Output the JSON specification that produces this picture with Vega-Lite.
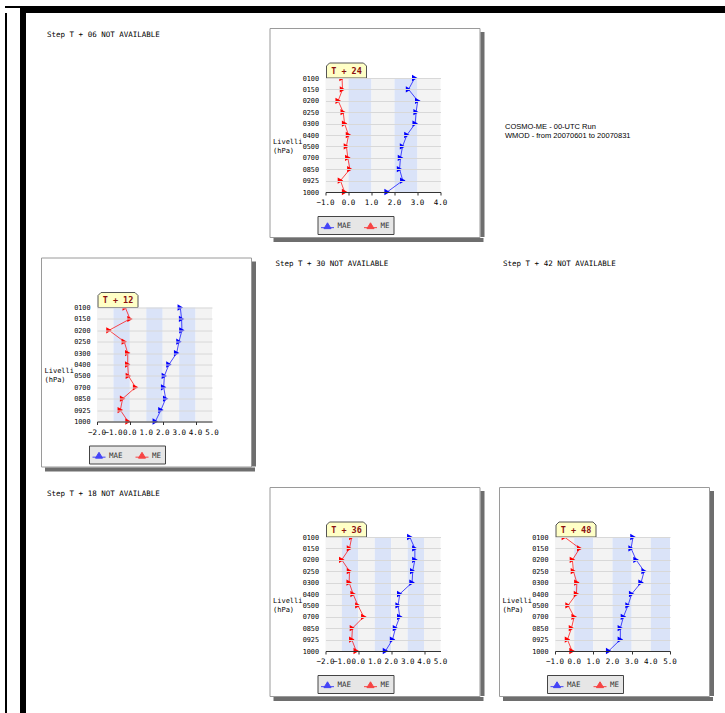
{
  "$schema": "https://vega.github.io/schema/vega-lite/v6.json",
  "padding": {"left": 5, "top": 6, "right": 0, "bottom": 0},
  "background": "white",
  "config": {"view": {"stroke": null}, "font": "DejaVu Sans Mono"},
  "datasets": {
    "profiles": [
      {"step": "T + 24", "level": "0100", "series": "MAE", "value": 2.88},
      {"step": "T + 24", "level": "0150", "series": "MAE", "value": 2.61},
      {"step": "T + 24", "level": "0200", "series": "MAE", "value": 3.01},
      {"step": "T + 24", "level": "0250", "series": "MAE", "value": 2.94},
      {"step": "T + 24", "level": "0300", "series": "MAE", "value": 2.90},
      {"step": "T + 24", "level": "0400", "series": "MAE", "value": 2.54},
      {"step": "T + 24", "level": "0500", "series": "MAE", "value": 2.35},
      {"step": "T + 24", "level": "0700", "series": "MAE", "value": 2.26},
      {"step": "T + 24", "level": "0850", "series": "MAE", "value": 2.22},
      {"step": "T + 24", "level": "0925", "series": "MAE", "value": 2.36},
      {"step": "T + 24", "level": "1000", "series": "MAE", "value": 1.68},
      {"step": "T + 24", "level": "0100", "series": "ME", "value": -0.28},
      {"step": "T + 24", "level": "0150", "series": "ME", "value": -0.26},
      {"step": "T + 24", "level": "0200", "series": "ME", "value": -0.45},
      {"step": "T + 24", "level": "0250", "series": "ME", "value": -0.23},
      {"step": "T + 24", "level": "0300", "series": "ME", "value": -0.17},
      {"step": "T + 24", "level": "0400", "series": "ME", "value": 0.00},
      {"step": "T + 24", "level": "0500", "series": "ME", "value": -0.09},
      {"step": "T + 24", "level": "0700", "series": "ME", "value": -0.03},
      {"step": "T + 24", "level": "0850", "series": "ME", "value": 0.06},
      {"step": "T + 24", "level": "0925", "series": "ME", "value": -0.35},
      {"step": "T + 24", "level": "1000", "series": "ME", "value": -0.17},
      {"step": "T + 12", "level": "0100", "series": "MAE", "value": 3.07},
      {"step": "T + 12", "level": "0150", "series": "MAE", "value": 3.15},
      {"step": "T + 12", "level": "0200", "series": "MAE", "value": 3.17},
      {"step": "T + 12", "level": "0250", "series": "MAE", "value": 2.99},
      {"step": "T + 12", "level": "0300", "series": "MAE", "value": 2.85},
      {"step": "T + 12", "level": "0400", "series": "MAE", "value": 2.38},
      {"step": "T + 12", "level": "0500", "series": "MAE", "value": 2.10},
      {"step": "T + 12", "level": "0700", "series": "MAE", "value": 2.06},
      {"step": "T + 12", "level": "0850", "series": "MAE", "value": 2.18},
      {"step": "T + 12", "level": "0925", "series": "MAE", "value": 1.89},
      {"step": "T + 12", "level": "1000", "series": "MAE", "value": 1.55},
      {"step": "T + 12", "level": "0100", "series": "ME", "value": -0.28},
      {"step": "T + 12", "level": "0150", "series": "ME", "value": 0.01},
      {"step": "T + 12", "level": "0200", "series": "ME", "value": -1.27},
      {"step": "T + 12", "level": "0250", "series": "ME", "value": -0.34},
      {"step": "T + 12", "level": "0300", "series": "ME", "value": -0.13},
      {"step": "T + 12", "level": "0400", "series": "ME", "value": -0.13},
      {"step": "T + 12", "level": "0500", "series": "ME", "value": -0.09},
      {"step": "T + 12", "level": "0700", "series": "ME", "value": 0.35},
      {"step": "T + 12", "level": "0850", "series": "ME", "value": -0.44},
      {"step": "T + 12", "level": "0925", "series": "ME", "value": -0.58},
      {"step": "T + 12", "level": "1000", "series": "ME", "value": -0.11},
      {"step": "T + 36", "level": "0100", "series": "MAE", "value": 3.13},
      {"step": "T + 36", "level": "0150", "series": "MAE", "value": 3.44},
      {"step": "T + 36", "level": "0200", "series": "MAE", "value": 3.44},
      {"step": "T + 36", "level": "0250", "series": "MAE", "value": 3.31},
      {"step": "T + 36", "level": "0300", "series": "MAE", "value": 3.27},
      {"step": "T + 36", "level": "0400", "series": "MAE", "value": 2.52},
      {"step": "T + 36", "level": "0500", "series": "MAE", "value": 2.42},
      {"step": "T + 36", "level": "0700", "series": "MAE", "value": 2.52},
      {"step": "T + 36", "level": "0850", "series": "MAE", "value": 2.26},
      {"step": "T + 36", "level": "0925", "series": "MAE", "value": 2.08},
      {"step": "T + 36", "level": "1000", "series": "MAE", "value": 1.65},
      {"step": "T + 36", "level": "0100", "series": "ME", "value": -0.40},
      {"step": "T + 36", "level": "0150", "series": "ME", "value": -0.54},
      {"step": "T + 36", "level": "0200", "series": "ME", "value": -1.01},
      {"step": "T + 36", "level": "0250", "series": "ME", "value": -0.54},
      {"step": "T + 36", "level": "0300", "series": "ME", "value": -0.56},
      {"step": "T + 36", "level": "0400", "series": "ME", "value": -0.32},
      {"step": "T + 36", "level": "0500", "series": "ME", "value": -0.03},
      {"step": "T + 36", "level": "0700", "series": "ME", "value": 0.33},
      {"step": "T + 36", "level": "0850", "series": "ME", "value": -0.36},
      {"step": "T + 36", "level": "0925", "series": "ME", "value": -0.40},
      {"step": "T + 36", "level": "1000", "series": "ME", "value": -0.13},
      {"step": "T + 48", "level": "0100", "series": "MAE", "value": 3.07},
      {"step": "T + 48", "level": "0150", "series": "MAE", "value": 2.97},
      {"step": "T + 48", "level": "0200", "series": "MAE", "value": 3.23},
      {"step": "T + 48", "level": "0250", "series": "MAE", "value": 3.65},
      {"step": "T + 48", "level": "0300", "series": "MAE", "value": 3.49},
      {"step": "T + 48", "level": "0400", "series": "MAE", "value": 3.00},
      {"step": "T + 48", "level": "0500", "series": "MAE", "value": 2.81},
      {"step": "T + 48", "level": "0700", "series": "MAE", "value": 2.57},
      {"step": "T + 48", "level": "0850", "series": "MAE", "value": 2.41},
      {"step": "T + 48", "level": "0925", "series": "MAE", "value": 2.41},
      {"step": "T + 48", "level": "1000", "series": "MAE", "value": 1.80},
      {"step": "T + 48", "level": "0100", "series": "ME", "value": -0.51},
      {"step": "T + 48", "level": "0150", "series": "ME", "value": 0.29},
      {"step": "T + 48", "level": "0200", "series": "ME", "value": -0.09},
      {"step": "T + 48", "level": "0250", "series": "ME", "value": -0.04},
      {"step": "T + 48", "level": "0300", "series": "ME", "value": 0.14},
      {"step": "T + 48", "level": "0400", "series": "ME", "value": 0.12},
      {"step": "T + 48", "level": "0500", "series": "ME", "value": -0.32},
      {"step": "T + 48", "level": "0700", "series": "ME", "value": 0.00},
      {"step": "T + 48", "level": "0850", "series": "ME", "value": -0.14},
      {"step": "T + 48", "level": "0925", "series": "ME", "value": -0.35},
      {"step": "T + 48", "level": "1000", "series": "ME", "value": -0.11}
    ],
    "bands": [
      {"step": "T + 24", "lo": -1, "hi": 0, "kind": "a"},
      {"step": "T + 24", "lo": 0, "hi": 1, "kind": "b"},
      {"step": "T + 24", "lo": 1, "hi": 2, "kind": "a"},
      {"step": "T + 24", "lo": 2, "hi": 3, "kind": "b"},
      {"step": "T + 24", "lo": 3, "hi": 4, "kind": "a"},
      {"step": "T + 12", "lo": -2, "hi": -1, "kind": "a"},
      {"step": "T + 12", "lo": -1, "hi": 0, "kind": "b"},
      {"step": "T + 12", "lo": 0, "hi": 1, "kind": "a"},
      {"step": "T + 12", "lo": 1, "hi": 2, "kind": "b"},
      {"step": "T + 12", "lo": 2, "hi": 3, "kind": "a"},
      {"step": "T + 12", "lo": 3, "hi": 4, "kind": "b"},
      {"step": "T + 12", "lo": 4, "hi": 5, "kind": "a"},
      {"step": "T + 36", "lo": -2, "hi": -1, "kind": "a"},
      {"step": "T + 36", "lo": -1, "hi": 0, "kind": "b"},
      {"step": "T + 36", "lo": 0, "hi": 1, "kind": "a"},
      {"step": "T + 36", "lo": 1, "hi": 2, "kind": "b"},
      {"step": "T + 36", "lo": 2, "hi": 3, "kind": "a"},
      {"step": "T + 36", "lo": 3, "hi": 4, "kind": "b"},
      {"step": "T + 36", "lo": 4, "hi": 5, "kind": "a"},
      {"step": "T + 48", "lo": -1, "hi": 0, "kind": "a"},
      {"step": "T + 48", "lo": 0, "hi": 1, "kind": "b"},
      {"step": "T + 48", "lo": 1, "hi": 2, "kind": "a"},
      {"step": "T + 48", "lo": 2, "hi": 3, "kind": "b"},
      {"step": "T + 48", "lo": 3, "hi": 4, "kind": "a"},
      {"step": "T + 48", "lo": 4, "hi": 5, "kind": "b"}
    ],
    "xticks": [
      {"step": "T + 24", "tick": -1}, {"step": "T + 24", "tick": 0}, {"step": "T + 24", "tick": 1},
      {"step": "T + 24", "tick": 2}, {"step": "T + 24", "tick": 3}, {"step": "T + 24", "tick": 4},
      {"step": "T + 12", "tick": -2}, {"step": "T + 12", "tick": -1}, {"step": "T + 12", "tick": 0}, {"step": "T + 12", "tick": 1},
      {"step": "T + 12", "tick": 2}, {"step": "T + 12", "tick": 3}, {"step": "T + 12", "tick": 4}, {"step": "T + 12", "tick": 5},
      {"step": "T + 36", "tick": -2}, {"step": "T + 36", "tick": -1}, {"step": "T + 36", "tick": 0}, {"step": "T + 36", "tick": 1},
      {"step": "T + 36", "tick": 2}, {"step": "T + 36", "tick": 3}, {"step": "T + 36", "tick": 4}, {"step": "T + 36", "tick": 5},
      {"step": "T + 48", "tick": -1}, {"step": "T + 48", "tick": 0}, {"step": "T + 48", "tick": 1}, {"step": "T + 48", "tick": 2},
      {"step": "T + 48", "tick": 3}, {"step": "T + 48", "tick": 4}, {"step": "T + 48", "tick": 5}
    ]
  },
  "spacing": 0,
  "vconcat": [
    {
      "spacing": 0,
      "hconcat": [
        {"width": 15, "height": 2, "data": {"values": []}, "mark": "point", "view": {"fill": "#000000", "stroke": null}},
        {"width": 705, "height": 7, "data": {"values": []}, "mark": "point", "view": {"fill": "#000000", "stroke": null}}
      ]
    },
    {
      "spacing": 13,
      "hconcat": [
        {"width": 2, "height": 700, "data": {"values": []}, "mark": "point", "view": {"fill": "#000000", "stroke": null}},
        {
          "spacing": 14,
          "hconcat": [
            {"width": 6, "height": 700, "data": {"values": []}, "mark": "point", "view": {"fill": "#000000", "stroke": null}},
            {
              "spacing": 0,
              "vconcat": [
                {"width": 1, "height": 14, "data": {"values": []}, "mark": "point"},
                {
                  "spacing": 14.5,
                  "vconcat": [
                    {
                      "spacing": 13.5,
                      "resolve": {"scale": {"color": "independent"}, "legend": {"color": "independent"}},
                      "hconcat": [
                        {"width": 214, "height": 213, "data": {"values": []}, "mark": "text",
                         "title": {"text": "Step T + 06 NOT AVAILABLE", "anchor": "start", "frame": "group", "offset": -10, "dx": 6, "baseline": "top", "font": "DejaVu Sans Mono", "fontSize": 7.5, "fontWeight": "normal", "color": "#000000"}},
                        {
                          "spacing": 0,
                          "resolve": {"scale": {"color": "independent"}, "legend": {"color": "independent"}},
                          "vconcat": [
                            {
                              "spacing": 0,
                              "resolve": {"scale": {"color": "independent"}, "legend": {"color": "independent"}},
                              "hconcat": [
                                {
                                  "width": 210, "height": 209,
                                  "view": {"fill": "#ffffff", "stroke": "#9a9a9a"},
                                  "layer": [
                                    {"data": {"name": "bands"}, "transform": [{"filter": "datum.step === 'T + 24'"}],
                                     "mark": {"type": "rect", "strokeWidth": 0},
                                     "encoding": {
                                       "x": {"field": "lo", "type": "quantitative", "scale": {"domain": [-1, 4], "range": [56, 171], "nice": false, "zero": false},
                                             "axis": {"orient": "bottom", "offset": -45, "title": null, "grid": false, "values": [-1, -0.5, 0, 0.5, 1, 1.5, 2, 2.5, 3, 3.5, 4], "labels": false, "domainColor": "#333333", "tickColor": "#333333", "tickSize": 3, "zindex": 1}},
                                       "x2": {"field": "hi"},
                                       "y": {"datum": "0100", "type": "nominal", "scale": {"type": "point", "domain": ["0100","0150","0200","0250","0300","0400","0500","0700","0850","0925","1000"], "range": [50, 164], "padding": 0},
                                             "axis": {"orient": "left", "offset": -56, "title": ["Livelli", "(hPa)"], "titleAngle": 0, "titleAlign": "left", "titleBaseline": "top", "titleX": -53, "titleY": 109, "titleFont": "DejaVu Sans Mono", "titleFontSize": 7, "titleFontWeight": "normal", "titleColor": "#000000", "titleLineHeight": 9, "grid": true, "gridColor": "#d8d8d8", "domain": false, "ticks": false, "labelPadding": 7, "labelFont": "DejaVu Sans Mono", "labelFontSize": 6.8, "labelColor": "#000000", "zindex": 1}},
                                       "y2": {"datum": "1000"},
                                       "fill": {"condition": {"test": "datum.kind === 'b'", "value": "#dae3f8"}, "value": "#f3f3f3"}
                                     }},
                                    {"data": {"name": "profiles"}, "transform": [{"filter": "datum.step === 'T + 24'"}],
                                     "mark": {"type": "line", "strokeWidth": 1, "opacity": 0.7},
                                     "encoding": {
                                       "x": {"field": "value", "type": "quantitative"},
                                       "y": {"field": "level", "type": "nominal"},
                                       "order": {"field": "level", "type": "ordinal"},
                                       "color": {"field": "series", "type": "nominal", "scale": {"domain": ["MAE", "ME"], "range": ["#0000ff", "#ff0000"]},
                                                 "legend": {"orient": "none", "legendX": 48, "legendY": 188, "direction": "horizontal", "title": null, "fillColor": "#e6e6e6", "strokeColor": "#444444", "padding": 3, "columnPadding": 10, "symbolType": "M-1,0.2H1M-0.55,0.35L0,-0.55L0.55,0.35Z", "symbolSize": 169, "symbolStrokeWidth": 1, "labelFont": "DejaVu Sans Mono", "labelFontSize": 7.5, "labelColor": "#333333", "labelOffset": 3}}
                                     }},
                                    {"data": {"name": "profiles"}, "transform": [{"filter": "datum.step === 'T + 24'"}],
                                     "mark": {"type": "point", "shape": "triangle-right", "filled": true, "size": 40, "opacity": 1},
                                     "encoding": {
                                       "x": {"field": "value", "type": "quantitative"},
                                       "y": {"field": "level", "type": "nominal"},
                                       "color": {"field": "series", "type": "nominal"}
                                     }},
                                    {"data": {"name": "xticks"}, "transform": [{"filter": "datum.step === 'T + 24'"}],
                                     "mark": {"type": "text", "baseline": "top", "dy": 7, "align": "center", "font": "DejaVu Sans Mono", "fontSize": 7.5, "color": "#000000"},
                                     "encoding": {"x": {"field": "tick", "type": "quantitative"}, "y": {"datum": "1000"}, "text": {"field": "tick", "type": "quantitative", "format": ".1f"}}},
                                    {"data": {"values": [{"step": "T + 24"}]},
                                     "mark": {"type": "point", "shape": "M0.1,0L0.1,-1.2L0.4,-1.5L3.8,-1.5L4.1,-1.2L4.1,0Z", "size": 400, "filled": true, "fill": "#ffffc6", "stroke": "#555555", "strokeWidth": 1, "opacity": 1},
                                     "encoding": {"x": {"datum": -1}, "y": {"datum": "0100"}}},
                                    {"data": {"values": [{"step": "T + 24"}]},
                                     "mark": {"type": "text", "dx": 21, "dy": -7.5, "align": "center", "baseline": "middle", "font": "DejaVu Sans Mono", "fontSize": 8.5, "fontWeight": "bold", "color": "#8b1010"},
                                     "encoding": {"x": {"datum": -1}, "y": {"datum": "0100"}, "text": {"field": "step"}}}
                                  ]
                                },
                                {
                                  "spacing": 0,
                                  "vconcat": [
                                    {"width": 4, "height": 4, "data": {"values": []}, "mark": "point"},
                                    {"width": 4, "height": 205, "data": {"values": []}, "mark": "point", "view": {"fill": "#6e6e6e", "stroke": null}}
                                  ]
                                }
                              ]
                            },
                            {
                              "spacing": 0,
                              "hconcat": [
                                {"width": 4, "height": 4, "data": {"values": []}, "mark": "point"},
                                {"width": 210, "height": 4, "data": {"values": []}, "mark": "point", "view": {"fill": "#6e6e6e", "stroke": null}}
                              ]
                            }
                          ]
                        },
                        {"width": 214, "height": 213, "data": {"values": []}, "mark": "text",
                         "title": {"text": ["COSMO-ME - 00-UTC Run", "WMOD - from 20070601 to 20070831"], "anchor": "start", "frame": "group", "offset": -111, "dx": 7, "baseline": "top", "lineHeight": 9, "font": "Liberation Sans", "fontSize": 7.5, "fontWeight": "normal", "color": "#000000"}}
                      ]
                    },
                    {
                      "spacing": 13.5,
                      "resolve": {"scale": {"color": "independent"}, "legend": {"color": "independent"}},
                      "hconcat": [
                        {
                          "spacing": 0,
                          "resolve": {"scale": {"color": "independent"}, "legend": {"color": "independent"}},
                          "vconcat": [
                            {
                              "spacing": 0,
                              "resolve": {"scale": {"color": "independent"}, "legend": {"color": "independent"}},
                              "hconcat": [
                                {
                                  "width": 210, "height": 209,
                                  "view": {"fill": "#ffffff", "stroke": "#9a9a9a"},
                                  "layer": [
                                    {"data": {"name": "bands"}, "transform": [{"filter": "datum.step === 'T + 12'"}],
                                     "mark": {"type": "rect", "strokeWidth": 0},
                                     "encoding": {
                                       "x": {"field": "lo", "type": "quantitative", "scale": {"domain": [-2, 5], "range": [56, 171], "nice": false, "zero": false},
                                             "axis": {"orient": "bottom", "offset": -45, "title": null, "grid": false, "values": [-2, -1.5, -1, -0.5, 0, 0.5, 1, 1.5, 2, 2.5, 3, 3.5, 4, 4.5, 5], "labels": false, "domainColor": "#333333", "tickColor": "#333333", "tickSize": 3, "zindex": 1}},
                                       "x2": {"field": "hi"},
                                       "y": {"datum": "0100", "type": "nominal", "scale": {"type": "point", "domain": ["0100","0150","0200","0250","0300","0400","0500","0700","0850","0925","1000"], "range": [50, 164], "padding": 0},
                                             "axis": {"orient": "left", "offset": -56, "title": ["Livelli", "(hPa)"], "titleAngle": 0, "titleAlign": "left", "titleBaseline": "top", "titleX": -53, "titleY": 109, "titleFont": "DejaVu Sans Mono", "titleFontSize": 7, "titleFontWeight": "normal", "titleColor": "#000000", "titleLineHeight": 9, "grid": true, "gridColor": "#d8d8d8", "domain": false, "ticks": false, "labelPadding": 7, "labelFont": "DejaVu Sans Mono", "labelFontSize": 6.8, "labelColor": "#000000", "zindex": 1}},
                                       "y2": {"datum": "1000"},
                                       "fill": {"condition": {"test": "datum.kind === 'b'", "value": "#dae3f8"}, "value": "#f3f3f3"}
                                     }},
                                    {"data": {"name": "profiles"}, "transform": [{"filter": "datum.step === 'T + 12'"}],
                                     "mark": {"type": "line", "strokeWidth": 1, "opacity": 0.7},
                                     "encoding": {
                                       "x": {"field": "value", "type": "quantitative"},
                                       "y": {"field": "level", "type": "nominal"},
                                       "order": {"field": "level", "type": "ordinal"},
                                       "color": {"field": "series", "type": "nominal", "scale": {"domain": ["MAE", "ME"], "range": ["#0000ff", "#ff0000"]},
                                                 "legend": {"orient": "none", "legendX": 48, "legendY": 188, "direction": "horizontal", "title": null, "fillColor": "#e6e6e6", "strokeColor": "#444444", "padding": 3, "columnPadding": 10, "symbolType": "M-1,0.2H1M-0.55,0.35L0,-0.55L0.55,0.35Z", "symbolSize": 169, "symbolStrokeWidth": 1, "labelFont": "DejaVu Sans Mono", "labelFontSize": 7.5, "labelColor": "#333333", "labelOffset": 3}}
                                     }},
                                    {"data": {"name": "profiles"}, "transform": [{"filter": "datum.step === 'T + 12'"}],
                                     "mark": {"type": "point", "shape": "triangle-right", "filled": true, "size": 40, "opacity": 1},
                                     "encoding": {
                                       "x": {"field": "value", "type": "quantitative"},
                                       "y": {"field": "level", "type": "nominal"},
                                       "color": {"field": "series", "type": "nominal"}
                                     }},
                                    {"data": {"name": "xticks"}, "transform": [{"filter": "datum.step === 'T + 12'"}],
                                     "mark": {"type": "text", "baseline": "top", "dy": 7, "align": "center", "font": "DejaVu Sans Mono", "fontSize": 7.5, "color": "#000000"},
                                     "encoding": {"x": {"field": "tick", "type": "quantitative"}, "y": {"datum": "1000"}, "text": {"field": "tick", "type": "quantitative", "format": ".1f"}}},
                                    {"data": {"values": [{"step": "T + 12"}]},
                                     "mark": {"type": "point", "shape": "M0.1,0L0.1,-1.2L0.4,-1.5L3.8,-1.5L4.1,-1.2L4.1,0Z", "size": 400, "filled": true, "fill": "#ffffc6", "stroke": "#555555", "strokeWidth": 1, "opacity": 1},
                                     "encoding": {"x": {"datum": -2}, "y": {"datum": "0100"}}},
                                    {"data": {"values": [{"step": "T + 12"}]},
                                     "mark": {"type": "text", "dx": 21, "dy": -7.5, "align": "center", "baseline": "middle", "font": "DejaVu Sans Mono", "fontSize": 8.5, "fontWeight": "bold", "color": "#8b1010"},
                                     "encoding": {"x": {"datum": -2}, "y": {"datum": "0100"}, "text": {"field": "step"}}}
                                  ]
                                },
                                {
                                  "spacing": 0,
                                  "vconcat": [
                                    {"width": 4, "height": 4, "data": {"values": []}, "mark": "point"},
                                    {"width": 4, "height": 205, "data": {"values": []}, "mark": "point", "view": {"fill": "#6e6e6e", "stroke": null}}
                                  ]
                                }
                              ]
                            },
                            {
                              "spacing": 0,
                              "hconcat": [
                                {"width": 4, "height": 4, "data": {"values": []}, "mark": "point"},
                                {"width": 210, "height": 4, "data": {"values": []}, "mark": "point", "view": {"fill": "#6e6e6e", "stroke": null}}
                              ]
                            }
                          ]
                        },
                        {"width": 214, "height": 213, "data": {"values": []}, "mark": "text",
                         "title": {"text": "Step T + 30 NOT AVAILABLE", "anchor": "start", "frame": "group", "offset": -10, "dx": 6, "baseline": "top", "font": "DejaVu Sans Mono", "fontSize": 7.5, "fontWeight": "normal", "color": "#000000"}},
                        {"width": 214, "height": 213, "data": {"values": []}, "mark": "text",
                         "title": {"text": "Step T + 42 NOT AVAILABLE", "anchor": "start", "frame": "group", "offset": -10, "dx": 6, "baseline": "top", "font": "DejaVu Sans Mono", "fontSize": 7.5, "fontWeight": "normal", "color": "#000000"}}
                      ]
                    },
                    {
                      "spacing": 13.5,
                      "resolve": {"scale": {"color": "independent"}, "legend": {"color": "independent"}},
                      "hconcat": [
                        {"width": 214, "height": 213, "data": {"values": []}, "mark": "text",
                         "title": {"text": "Step T + 18 NOT AVAILABLE", "anchor": "start", "frame": "group", "offset": -10, "dx": 6, "baseline": "top", "font": "DejaVu Sans Mono", "fontSize": 7.5, "fontWeight": "normal", "color": "#000000"}},
                        {
                          "spacing": 0,
                          "resolve": {"scale": {"color": "independent"}, "legend": {"color": "independent"}},
                          "vconcat": [
                            {
                              "spacing": 0,
                              "resolve": {"scale": {"color": "independent"}, "legend": {"color": "independent"}},
                              "hconcat": [
                                {
                                  "width": 210, "height": 209,
                                  "view": {"fill": "#ffffff", "stroke": "#9a9a9a"},
                                  "layer": [
                                    {"data": {"name": "bands"}, "transform": [{"filter": "datum.step === 'T + 36'"}],
                                     "mark": {"type": "rect", "strokeWidth": 0},
                                     "encoding": {
                                       "x": {"field": "lo", "type": "quantitative", "scale": {"domain": [-2, 5], "range": [56, 171], "nice": false, "zero": false},
                                             "axis": {"orient": "bottom", "offset": -45, "title": null, "grid": false, "values": [-2, -1.5, -1, -0.5, 0, 0.5, 1, 1.5, 2, 2.5, 3, 3.5, 4, 4.5, 5], "labels": false, "domainColor": "#333333", "tickColor": "#333333", "tickSize": 3, "zindex": 1}},
                                       "x2": {"field": "hi"},
                                       "y": {"datum": "0100", "type": "nominal", "scale": {"type": "point", "domain": ["0100","0150","0200","0250","0300","0400","0500","0700","0850","0925","1000"], "range": [50, 164], "padding": 0},
                                             "axis": {"orient": "left", "offset": -56, "title": ["Livelli", "(hPa)"], "titleAngle": 0, "titleAlign": "left", "titleBaseline": "top", "titleX": -53, "titleY": 109, "titleFont": "DejaVu Sans Mono", "titleFontSize": 7, "titleFontWeight": "normal", "titleColor": "#000000", "titleLineHeight": 9, "grid": true, "gridColor": "#d8d8d8", "domain": false, "ticks": false, "labelPadding": 7, "labelFont": "DejaVu Sans Mono", "labelFontSize": 6.8, "labelColor": "#000000", "zindex": 1}},
                                       "y2": {"datum": "1000"},
                                       "fill": {"condition": {"test": "datum.kind === 'b'", "value": "#dae3f8"}, "value": "#f3f3f3"}
                                     }},
                                    {"data": {"name": "profiles"}, "transform": [{"filter": "datum.step === 'T + 36'"}],
                                     "mark": {"type": "line", "strokeWidth": 1, "opacity": 0.7},
                                     "encoding": {
                                       "x": {"field": "value", "type": "quantitative"},
                                       "y": {"field": "level", "type": "nominal"},
                                       "order": {"field": "level", "type": "ordinal"},
                                       "color": {"field": "series", "type": "nominal", "scale": {"domain": ["MAE", "ME"], "range": ["#0000ff", "#ff0000"]},
                                                 "legend": {"orient": "none", "legendX": 48, "legendY": 188, "direction": "horizontal", "title": null, "fillColor": "#e6e6e6", "strokeColor": "#444444", "padding": 3, "columnPadding": 10, "symbolType": "M-1,0.2H1M-0.55,0.35L0,-0.55L0.55,0.35Z", "symbolSize": 169, "symbolStrokeWidth": 1, "labelFont": "DejaVu Sans Mono", "labelFontSize": 7.5, "labelColor": "#333333", "labelOffset": 3}}
                                     }},
                                    {"data": {"name": "profiles"}, "transform": [{"filter": "datum.step === 'T + 36'"}],
                                     "mark": {"type": "point", "shape": "triangle-right", "filled": true, "size": 40, "opacity": 1},
                                     "encoding": {
                                       "x": {"field": "value", "type": "quantitative"},
                                       "y": {"field": "level", "type": "nominal"},
                                       "color": {"field": "series", "type": "nominal"}
                                     }},
                                    {"data": {"name": "xticks"}, "transform": [{"filter": "datum.step === 'T + 36'"}],
                                     "mark": {"type": "text", "baseline": "top", "dy": 7, "align": "center", "font": "DejaVu Sans Mono", "fontSize": 7.5, "color": "#000000"},
                                     "encoding": {"x": {"field": "tick", "type": "quantitative"}, "y": {"datum": "1000"}, "text": {"field": "tick", "type": "quantitative", "format": ".1f"}}},
                                    {"data": {"values": [{"step": "T + 36"}]},
                                     "mark": {"type": "point", "shape": "M0.1,0L0.1,-1.2L0.4,-1.5L3.8,-1.5L4.1,-1.2L4.1,0Z", "size": 400, "filled": true, "fill": "#ffffc6", "stroke": "#555555", "strokeWidth": 1, "opacity": 1},
                                     "encoding": {"x": {"datum": -2}, "y": {"datum": "0100"}}},
                                    {"data": {"values": [{"step": "T + 36"}]},
                                     "mark": {"type": "text", "dx": 21, "dy": -7.5, "align": "center", "baseline": "middle", "font": "DejaVu Sans Mono", "fontSize": 8.5, "fontWeight": "bold", "color": "#8b1010"},
                                     "encoding": {"x": {"datum": -2}, "y": {"datum": "0100"}, "text": {"field": "step"}}}
                                  ]
                                },
                                {
                                  "spacing": 0,
                                  "vconcat": [
                                    {"width": 4, "height": 4, "data": {"values": []}, "mark": "point"},
                                    {"width": 4, "height": 205, "data": {"values": []}, "mark": "point", "view": {"fill": "#6e6e6e", "stroke": null}}
                                  ]
                                }
                              ]
                            },
                            {
                              "spacing": 0,
                              "hconcat": [
                                {"width": 4, "height": 4, "data": {"values": []}, "mark": "point"},
                                {"width": 210, "height": 4, "data": {"values": []}, "mark": "point", "view": {"fill": "#6e6e6e", "stroke": null}}
                              ]
                            }
                          ]
                        },
                        {
                          "spacing": 0,
                          "resolve": {"scale": {"color": "independent"}, "legend": {"color": "independent"}},
                          "vconcat": [
                            {
                              "spacing": 0,
                              "resolve": {"scale": {"color": "independent"}, "legend": {"color": "independent"}},
                              "hconcat": [
                                {
                                  "width": 210, "height": 209,
                                  "view": {"fill": "#ffffff", "stroke": "#9a9a9a"},
                                  "layer": [
                                    {"data": {"name": "bands"}, "transform": [{"filter": "datum.step === 'T + 48'"}],
                                     "mark": {"type": "rect", "strokeWidth": 0},
                                     "encoding": {
                                       "x": {"field": "lo", "type": "quantitative", "scale": {"domain": [-1, 5], "range": [56, 171], "nice": false, "zero": false},
                                             "axis": {"orient": "bottom", "offset": -45, "title": null, "grid": false, "values": [-1, -0.5, 0, 0.5, 1, 1.5, 2, 2.5, 3, 3.5, 4, 4.5, 5], "labels": false, "domainColor": "#333333", "tickColor": "#333333", "tickSize": 3, "zindex": 1}},
                                       "x2": {"field": "hi"},
                                       "y": {"datum": "0100", "type": "nominal", "scale": {"type": "point", "domain": ["0100","0150","0200","0250","0300","0400","0500","0700","0850","0925","1000"], "range": [50, 164], "padding": 0},
                                             "axis": {"orient": "left", "offset": -56, "title": ["Livelli", "(hPa)"], "titleAngle": 0, "titleAlign": "left", "titleBaseline": "top", "titleX": -53, "titleY": 109, "titleFont": "DejaVu Sans Mono", "titleFontSize": 7, "titleFontWeight": "normal", "titleColor": "#000000", "titleLineHeight": 9, "grid": true, "gridColor": "#d8d8d8", "domain": false, "ticks": false, "labelPadding": 7, "labelFont": "DejaVu Sans Mono", "labelFontSize": 6.8, "labelColor": "#000000", "zindex": 1}},
                                       "y2": {"datum": "1000"},
                                       "fill": {"condition": {"test": "datum.kind === 'b'", "value": "#dae3f8"}, "value": "#f3f3f3"}
                                     }},
                                    {"data": {"name": "profiles"}, "transform": [{"filter": "datum.step === 'T + 48'"}],
                                     "mark": {"type": "line", "strokeWidth": 1, "opacity": 0.7},
                                     "encoding": {
                                       "x": {"field": "value", "type": "quantitative"},
                                       "y": {"field": "level", "type": "nominal"},
                                       "order": {"field": "level", "type": "ordinal"},
                                       "color": {"field": "series", "type": "nominal", "scale": {"domain": ["MAE", "ME"], "range": ["#0000ff", "#ff0000"]},
                                                 "legend": {"orient": "none", "legendX": 48, "legendY": 188, "direction": "horizontal", "title": null, "fillColor": "#e6e6e6", "strokeColor": "#444444", "padding": 3, "columnPadding": 10, "symbolType": "M-1,0.2H1M-0.55,0.35L0,-0.55L0.55,0.35Z", "symbolSize": 169, "symbolStrokeWidth": 1, "labelFont": "DejaVu Sans Mono", "labelFontSize": 7.5, "labelColor": "#333333", "labelOffset": 3}}
                                     }},
                                    {"data": {"name": "profiles"}, "transform": [{"filter": "datum.step === 'T + 48'"}],
                                     "mark": {"type": "point", "shape": "triangle-right", "filled": true, "size": 40, "opacity": 1},
                                     "encoding": {
                                       "x": {"field": "value", "type": "quantitative"},
                                       "y": {"field": "level", "type": "nominal"},
                                       "color": {"field": "series", "type": "nominal"}
                                     }},
                                    {"data": {"name": "xticks"}, "transform": [{"filter": "datum.step === 'T + 48'"}],
                                     "mark": {"type": "text", "baseline": "top", "dy": 7, "align": "center", "font": "DejaVu Sans Mono", "fontSize": 7.5, "color": "#000000"},
                                     "encoding": {"x": {"field": "tick", "type": "quantitative"}, "y": {"datum": "1000"}, "text": {"field": "tick", "type": "quantitative", "format": ".1f"}}},
                                    {"data": {"values": [{"step": "T + 48"}]},
                                     "mark": {"type": "point", "shape": "M0.1,0L0.1,-1.2L0.4,-1.5L3.8,-1.5L4.1,-1.2L4.1,0Z", "size": 400, "filled": true, "fill": "#ffffc6", "stroke": "#555555", "strokeWidth": 1, "opacity": 1},
                                     "encoding": {"x": {"datum": -1}, "y": {"datum": "0100"}}},
                                    {"data": {"values": [{"step": "T + 48"}]},
                                     "mark": {"type": "text", "dx": 21, "dy": -7.5, "align": "center", "baseline": "middle", "font": "DejaVu Sans Mono", "fontSize": 8.5, "fontWeight": "bold", "color": "#8b1010"},
                                     "encoding": {"x": {"datum": -1}, "y": {"datum": "0100"}, "text": {"field": "step"}}}
                                  ]
                                },
                                {
                                  "spacing": 0,
                                  "vconcat": [
                                    {"width": 4, "height": 4, "data": {"values": []}, "mark": "point"},
                                    {"width": 4, "height": 205, "data": {"values": []}, "mark": "point", "view": {"fill": "#6e6e6e", "stroke": null}}
                                  ]
                                }
                              ]
                            },
                            {
                              "spacing": 0,
                              "hconcat": [
                                {"width": 4, "height": 4, "data": {"values": []}, "mark": "point"},
                                {"width": 210, "height": 4, "data": {"values": []}, "mark": "point", "view": {"fill": "#6e6e6e", "stroke": null}}
                              ]
                            }
                          ]
                        }
                      ]
                    }
                  ]
                }
              ]
            }
          ]
        }
      ]
    }
  ]
}
